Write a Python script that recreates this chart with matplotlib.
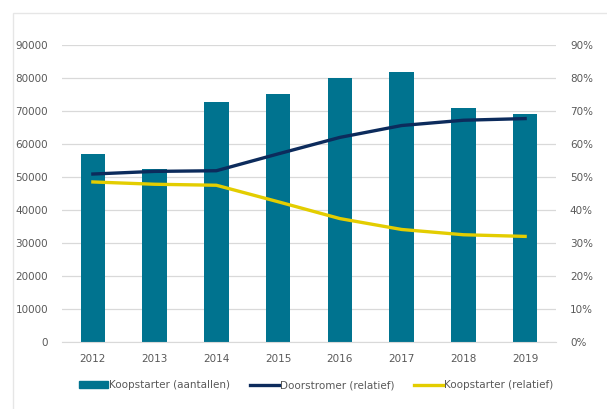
import numpy as np
import matplotlib.pyplot as plt
from matplotlib.patches import Rectangle
from matplotlib.lines import Line2D

years = ['2012', '2013', '2014', '2015', '2016', '2017', '2018', '2019']
koopstarter_aantallen = [56900, 52300, 72700, 75300, 80100, 81900, 71000, 69200]
doorstromer_rel = [50.9, 51.7, 51.9, 57.0, 62.0, 65.6, 67.2, 67.7]
koopstarter_rel = [48.5, 47.8, 47.5, 42.5, 37.4, 34.1, 32.5, 32.0]

teal = '#00738f'
navy = '#0c2b5c'
yellow = '#e3cd00'
txt = '#595959'

fig = plt.figure(figsize=(6.07, 4.09), dpi=100)
# light frame of the chart container
fig.patches.append(Rectangle((13 / 607, -0.01), 1.0, 1 - 13 / 409 + 0.01,
                             transform=fig.transFigure, fill=False,
                             edgecolor='#e6e6e6', linewidth=1.0))

ax = fig.add_axes([62 / 607, 1 - 342 / 409, 494 / 607, 297 / 409])
x = np.arange(len(years))
ax.bar(x, koopstarter_aantallen, width=0.4, color=teal, zorder=2)
ax.set_ylim(0, 90000)
ax.set_xlim(-0.5, len(years) - 0.5)
ax.set_yticks(np.arange(0, 90001, 10000))
ax.set_yticklabels([f'{v}' for v in range(0, 90001, 10000)])
ax.set_xticks(x)
ax.set_xticklabels(years)
ax.grid(axis='y', color='#d9d9d9', linewidth=0.9, zorder=0)
for s in ax.spines.values():
    s.set_visible(False)
ax.spines['bottom'].set_visible(True)
ax.spines['bottom'].set_color('#d9d9d9')
ax.tick_params(length=0, labelsize=7.5, labelcolor=txt)
ax.tick_params(axis='y', pad=10)
ax.tick_params(axis='x', pad=9)

ax2 = ax.twinx()
ax2.plot(x, doorstromer_rel, color=navy, linewidth=2.4, solid_joinstyle='round', zorder=3)
ax2.plot(x, koopstarter_rel, color=yellow, linewidth=2.4, solid_joinstyle='round', zorder=3)
ax2.set_ylim(0, 90)
ax2.set_yticks(np.arange(0, 91, 10))
ax2.set_yticklabels([f'{v}%' for v in range(0, 91, 10)])
for s in ax2.spines.values():
    s.set_visible(False)
ax2.tick_params(length=0, labelsize=7.5, labelcolor=txt, pad=10)

handles = [Rectangle((0, 0), 1, 1, color=teal),
           Line2D([], [], color=navy, linewidth=2.4),
           Line2D([], [], color=yellow, linewidth=2.4)]
labels = ['Koopstarter (aantallen)', 'Doorstromer (relatief)', 'Koopstarter (relatief)']
leg = fig.legend(handles, labels, loc='center', bbox_to_anchor=(316 / 607, 1 - 385 / 409),
                 ncol=3, frameon=False, fontsize=7.5, handlelength=2.8,
                 handleheight=0.6, handletextpad=0.1, columnspacing=1.9)
for t in leg.get_texts():
    t.set_color(txt)

fig.savefig('out.png', dpi=100)
